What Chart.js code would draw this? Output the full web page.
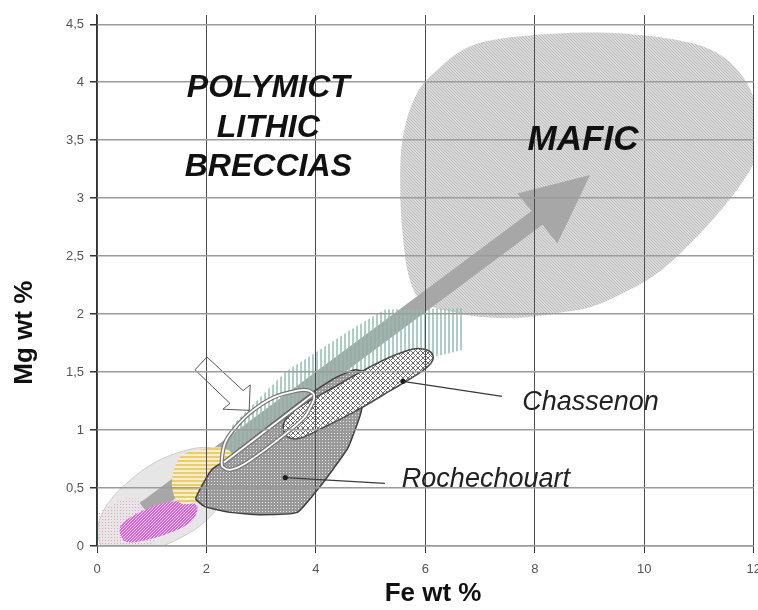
<!DOCTYPE html>
<html>
<head>
<meta charset="utf-8">
<script src="https://cdn.jsdelivr.net/npm/chart.js@4.4.1/dist/chart.umd.min.js"></script>
<style>
  html, body { margin: 0; padding: 0; background: #fff; overflow: hidden; }
  #wrap { position: relative; width: 770px; height: 610px; }
</style>
</head>
<body>
<div id="wrap"><canvas id="chart"></canvas></div>
<script>
// Axis ticks
const feTicks = [0, 2, 4, 6, 8, 10, 12];
const mgTicks = [0, 0.5, 1, 1.5, 2, 2.5, 3, 3.5, 4, 4.5];

// Field outlines as [Fe wt %, Mg wt %] vertices
const maficField = [
  [7.18, 4.36], [8.41, 4.42], [9.61, 4.42], [10.84, 4.34], [11.44, 4.22], [11.81, 4.04],
  [12.02, 3.82], [12.06, 3.44], [11.93, 3.24], [11.44, 2.92], [10.84, 2.61], [10.23, 2.35],
  [9.61, 2.18], [9.01, 2.06], [8.41, 2.01], [7.79, 1.97], [7.18, 1.97], [6.58, 2.01],
  [5.96, 2.10], [5.72, 2.29], [5.59, 2.66], [5.54, 3.10], [5.59, 3.53], [5.85, 3.91],
  [6.27, 4.13], [6.69, 4.28]
];
const trendArrow = [
  [0.78, 0.37], [7.94, 2.89], [7.68, 3.04], [9.01, 3.20], [8.41, 2.61], [8.14, 2.77], [0.98, 0.25]
];
const lithicEllipse = [
  [2.39, 0.67], [2.28, 0.81], [1.97, 0.85], [1.52, 0.81], [1.06, 0.72], [0.64, 0.58],
  [0.27, 0.41], [0.06, 0.24], [0.02, 0.08], [0.20, -0.06], [0.51, -0.10], [0.97, -0.04],
  [1.52, 0.07], [1.97, 0.21], [2.28, 0.40]
];
const pinkField = [
  [0.00, 0.27], [0.24, 0.35], [0.55, 0.41], [0.91, 0.39], [1.15, 0.27], [0.97, 0.01], [0.00, 0.00]
];
const magentaField = [
  [0.42, 0.16], [0.69, 0.27], [1.15, 0.36], [1.61, 0.39], [1.83, 0.34], [1.74, 0.22],
  [1.37, 0.12], [0.88, 0.05], [0.51, 0.04]
];
const yellowField = [
  [1.52, 0.77], [1.88, 0.83], [2.28, 0.85], [2.47, 0.79], [2.34, 0.57], [1.97, 0.40],
  [1.61, 0.36], [1.43, 0.41], [1.37, 0.57]
];
const greenField = [
  [2.32, 0.72], [2.47, 1.04], [3.44, 1.50], [4.62, 1.86], [5.26, 2.04], [6.69, 2.05],
  [6.67, 1.69], [5.90, 1.60], [4.81, 1.39], [3.71, 1.09], [2.61, 0.72]
];
const rochechouartField = [
  [1.81, 0.42], [1.94, 0.54], [2.10, 0.66], [2.28, 0.72], [3.93, 1.32], [4.35, 1.45],
  [4.72, 1.52], [4.92, 1.49], [4.88, 1.30], [4.81, 1.13], [4.59, 0.85], [4.31, 0.66],
  [4.02, 0.48], [3.66, 0.29], [2.98, 0.27], [2.43, 0.29], [1.97, 0.34], [1.81, 0.40]
];
const brecciaEllipse = [
  [2.28, 0.74], [2.34, 0.89], [2.49, 1.00], [2.80, 1.15], [3.22, 1.28], [3.66, 1.34],
  [3.87, 1.34], [3.97, 1.29], [3.89, 1.19], [3.77, 1.10], [3.29, 0.91], [2.80, 0.74],
  [2.47, 0.66], [2.30, 0.68]
];
const brecciaAxis = [[2.32, 0.72], [3.93, 1.30]];
const chassenonField = [
  [3.40, 1.02], [3.49, 0.94], [3.71, 0.93], [4.13, 1.02], [4.75, 1.17], [5.36, 1.34],
  [5.85, 1.48], [6.09, 1.57], [6.14, 1.64], [6.03, 1.69], [5.78, 1.70], [5.36, 1.63],
  [4.81, 1.50], [4.26, 1.35], [3.80, 1.23], [3.49, 1.12]
];
const pointerArrow = [
  [2.01, 1.63], [2.67, 1.34], [2.80, 1.39], [2.78, 1.17], [2.30, 1.18], [2.43, 1.23], [1.79, 1.52]
];
const chassenonLeader = [[5.59, 1.42], [7.40, 1.29]];
const rochechouartLeader = [[3.44, 0.59], [5.26, 0.54]];

// Text labels placed in data units
const fieldLabels = [
  { text: 'POLYMICT', fe: 3.13, mg: 3.95 },
  { text: 'LITHIC', fe: 3.13, mg: 3.605 },
  { text: 'BRECCIAS', fe: 3.13, mg: 3.268 },
  { text: 'MAFIC', fe: 8.88, mg: 3.50 }
];
const sampleLabels = [
  { text: 'Chassenon', fe: 7.77, mg: 1.24 },
  { text: 'Rochechouart', fe: 5.57, mg: 0.578 }
];

const FONT = '"Liberation Sans", Arial, sans-serif';
const labelFont = { POLYMICT: 32, LITHIC: 32, BRECCIAS: 32, MAFIC: 35 };

// Small tiled fills for the hatched fields
function tile(size, bg, fg, hit) {
  const c = document.createElement('canvas');
  c.width = c.height = size;
  const g = c.getContext('2d');
  if (bg) { g.fillStyle = bg; g.fillRect(0, 0, size, size); }
  g.fillStyle = fg;
  for (let y = 0; y < size; y++)
    for (let x = 0; x < size; x++)
      if (hit(x, y)) g.fillRect(x, y, 1, 1);
  return g.createPattern(c, 'repeat');
}
const fills = {
  mafic: tile(3, '#d9d9d9', '#bdbdbd', (x, y) => (x - y + 3) % 3 === 0),
  green: tile(4, null, 'rgba(140,192,174,0.75)', (x) => x % 4 < 2),
  chassenon: tile(5, '#ffffff', '#6a6a6a', (x, y) => (x + y) % 5 === 0 || (x - y + 5) % 5 === 0),
  rochechouart: tile(3, '#999999', '#e8e8e8', (x, y) => x % 3 === 1 && y % 3 === 1),
  yellow: tile(4, '#efeee6', '#f0cf52', (x, y) => y % 4 < 2),
  magenta: tile(3, '#f0cff0', '#d964d9', (x, y) => (x + y) % 3 !== 0),
  pink: tile(3, null, '#f0a2bb', (x, y) => x % 3 === 0 && y % 3 === 0)
};

function region(points, opts) {
  return Object.assign({
    data: points.map(p => ({ x: p[0], y: p[1] })),
    fill: 'shape',
    pointRadius: 0,
    borderWidth: 0,
    tension: 0,
    capBezierPoints: false,
    closed: true
  }, opts);
}
function outline(points, color, width, tension, closed) {
  return {
    data: points.map(p => ({ x: p[0], y: p[1] })),
    fill: false,
    pointRadius: 0,
    borderColor: color,
    borderWidth: width,
    tension: tension,
    capBezierPoints: false,
    closed: closed
  };
}
function leader(points) {
  return {
    data: points.map(p => ({ x: p[0], y: p[1] })),
    fill: false,
    borderColor: '#3a3a3a',
    borderWidth: 1.2,
    pointRadius: [2.6, 0],
    pointBorderWidth: 0,
    pointBackgroundColor: '#1e1e1e',
    tension: 0
  };
}

// Datasets listed top-most first
const datasets = [
  leader(chassenonLeader),
  leader(rochechouartLeader),
  region(pointerArrow, { backgroundColor: '#ffffff', borderColor: '#555555', borderWidth: 1 }),
  outline(brecciaAxis, '#ffffff', 1.8, 0, false),
  outline(brecciaAxis, '#777777', 4.2, 0, false),
  outline(brecciaEllipse, '#ffffff', 1.8, 0.4, true),
  outline(brecciaEllipse, '#777777', 4.2, 0.4, true),
  region(chassenonField, { backgroundColor: fills.chassenon, borderColor: '#4a4a4a', borderWidth: 1.5, tension: 0.35 }),
  region(rochechouartField, { backgroundColor: fills.rochechouart, borderColor: '#3f3f3f', borderWidth: 1.5, tension: 0.15 }),
  region(yellowField, { backgroundColor: fills.yellow, tension: 0.3 }),
  region(magentaField, { backgroundColor: fills.magenta, tension: 0.35 }),
  region(greenField, { backgroundColor: fills.green }),
  region(trendArrow, { backgroundColor: '#a7a7a7' }),
  region(pinkField, { backgroundColor: fills.pink, tension: 0.3 }),
  region(lithicEllipse, { backgroundColor: '#e6e6e6', borderColor: '#cccccc', borderWidth: 1, tension: 0.4 }),
  region(maficField, { backgroundColor: fills.mafic, tension: 0.35 })
];

// Join the last vertex of each closed outline back to the first one
const closeOutlines = {
  id: 'closeOutlines',
  afterDatasetUpdate(chart, args) {
    const ds = chart.data.datasets[args.index];
    const line = args.meta.dataset;
    if (ds.closed && line) {
      line._loop = true;
      line._fullLoop = true;
      line._segments = undefined;
      line._path = undefined;
      line._pointsUpdated = false;
    }
  }
};

const annotate = {
  id: 'annotate',
  afterDraw(chart) {
    const { ctx, chartArea } = chart;
    const xs = chart.scales.x, ys = chart.scales.y;
    ctx.save();
    ctx.fillStyle = '#111';
    ctx.textAlign = 'center';
    ctx.textBaseline = 'middle';
    for (const l of fieldLabels) {
      ctx.font = 'italic bold ' + labelFont[l.text] + 'px ' + FONT;
      ctx.fillText(l.text, xs.getPixelForValue(l.fe), ys.getPixelForValue(l.mg));
    }
    ctx.fillStyle = '#222';
    ctx.textAlign = 'left';
    ctx.font = 'italic 27px ' + FONT;
    for (const l of sampleLabels) {
      ctx.fillText(l.text, xs.getPixelForValue(l.fe), ys.getPixelForValue(l.mg));
    }
    // axis titles
    ctx.fillStyle = '#111';
    ctx.font = 'bold 26px ' + FONT;
    ctx.textAlign = 'center';
    ctx.fillText('Fe wt %', xs.getPixelForValue(6.14), chartArea.bottom + 48);
    ctx.translate(chartArea.left - 72, ys.getPixelForValue(1.84));
    ctx.rotate(-Math.PI / 2);
    ctx.fillText('Mg wt %', 0, 0);
    ctx.restore();
  }
};

new Chart(document.getElementById('chart'), {
  type: 'line',
  data: { datasets },
  plugins: [closeOutlines, annotate],
  options: {
    responsive: true,
    maintainAspectRatio: false,
    animation: false,
    events: [],
    layout: { padding: { top: 15, right: 0, bottom: 0, left: 0 } },
    plugins: { legend: { display: false }, tooltip: { enabled: false } },
    scales: {
      x: {
        type: 'linear',
        min: 0,
        max: 12,
        afterBuildTicks: s => { s.ticks = feTicks.map(v => ({ value: v })); },
        afterFit: s => { s.height = 64; },
        grid: { color: '#4c4c4c', lineWidth: 1, tickLength: 7, tickColor: '#333', z: 1 },
        border: { color: '#333', width: 1.2, z: 1 },
        ticks: { color: '#555', font: { family: FONT, size: 13 }, padding: 9, maxRotation: 0 }
      },
      y: {
        type: 'linear',
        min: 0,
        max: 4.58,
        afterBuildTicks: s => { s.ticks = mgTicks.map(v => ({ value: v })); },
        afterFit: s => { s.width = 97; },
        grid: { color: '#9c9c9c', lineWidth: 1.5, tickLength: 7, tickColor: '#333', z: 1 },
        border: { color: '#333', width: 1.2, z: 1 },
        ticks: {
          color: '#555',
          font: { family: FONT, size: 13 },
          padding: 6,
          callback: v => String(v).replace('.', ',')
        }
      }
    }
  }
});
</script>
</body>
</html>
